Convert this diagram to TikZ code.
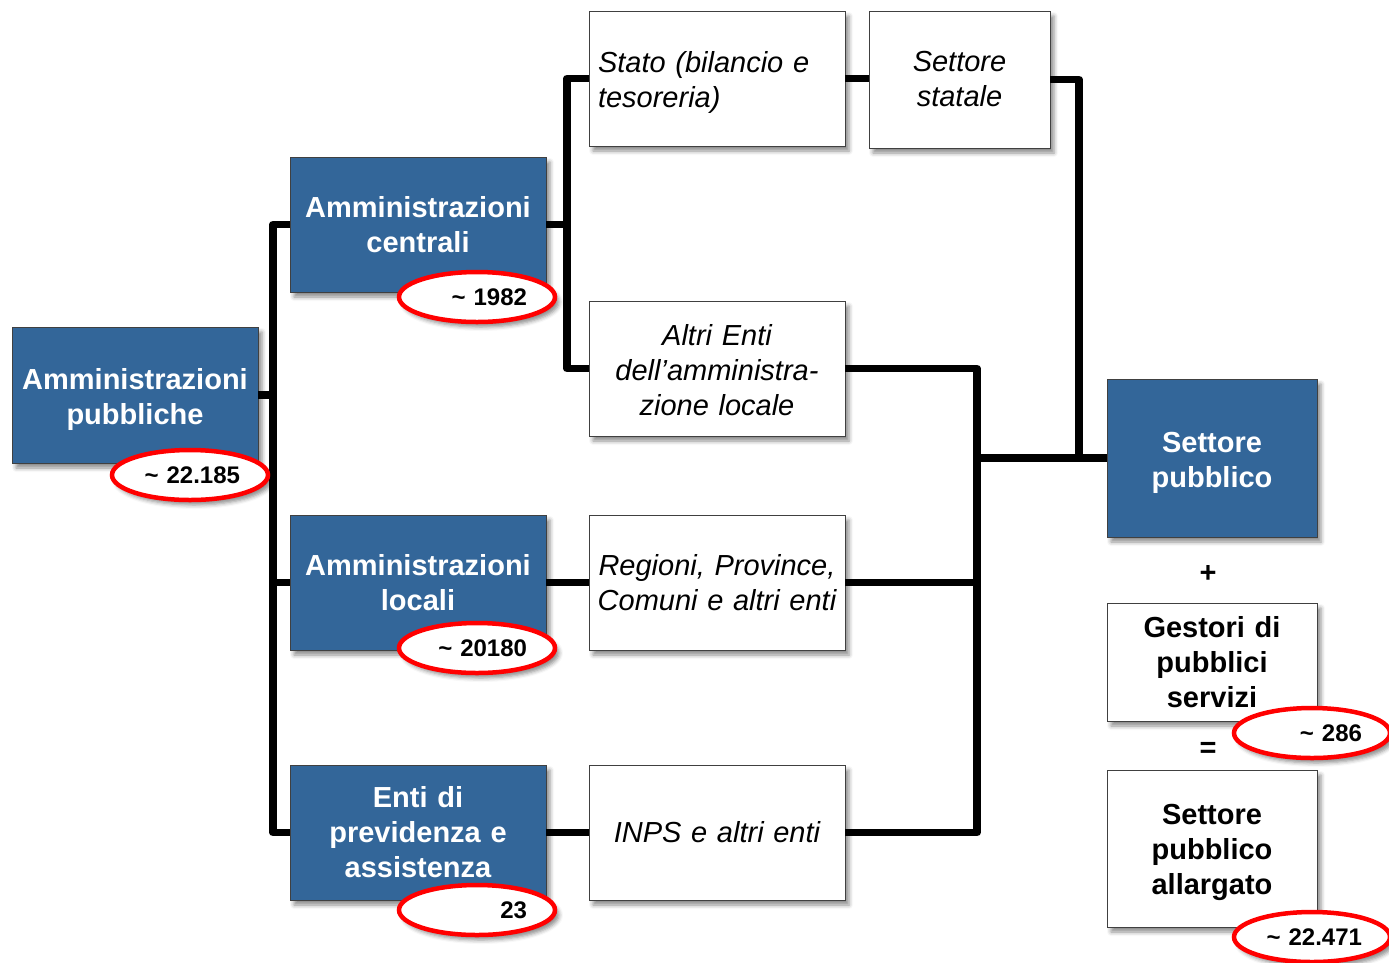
\documentclass[tikz,border=0pt]{standalone}
\usepackage{fontspec}
\setmainfont{Liberation Sans}
\usetikzlibrary{shapes.geometric,shadows.blur,calc}
\definecolor{boxblue}{RGB}{51,102,153}
\newcommand\mytopfix[1]{\rule{0pt}{#1pt}}
\begin{document}
\begin{tikzpicture}[x=1pt,y=-1pt,
  shad/.style={blur shadow={shadow xshift=4pt, shadow yshift=-5pt, shadow blur radius=4pt, shadow opacity=45}},
  bluebox/.style={shad, draw=black!75, line width=0.8pt, fill=boxblue, text=white,
    font=\bfseries\fontsize{29}{35}\selectfont, align=center, inner sep=0pt},
  whitebox/.style={shad, draw=black!75, line width=0.8pt, fill=white, text=black,
    font=\itshape\fontsize{29}{35}\selectfont, align=center, inner sep=0pt},
  boldbox/.style={shad, draw=black!75, line width=0.8pt, fill=white, text=black,
    font=\bfseries\fontsize{29}{35}\selectfont, align=center, inner sep=0pt},
  countoval/.style={shad, ellipse, draw=red, line width=4.5pt, fill=white,
    minimum width=156pt, minimum height=50pt, inner sep=0pt,
    text width=100pt, align=right, font=\bfseries\fontsize{24}{28}\selectfont},
  sign/.style={font=\bfseries\fontsize{29}{35}\selectfont},
  conn/.style={line width=7.5pt, line join=round, black}]
\useasboundingbox (0,0) rectangle (1389,962);

% blue boxes
\node[bluebox, minimum width=246pt, minimum height=136pt, text width=242pt] (AP) at (135,395) {\mytopfix{29}Amministrazioni\\pubbliche};
\node[bluebox, minimum width=256pt, minimum height=135pt, text width=250pt] (AC) at (418,224.5) {Amministrazioni\\centrali};
\node[bluebox, minimum width=256pt, minimum height=135pt, text width=250pt] (AL) at (418,582.5) {Amministrazioni\\locali};
\node[bluebox, minimum width=256pt, minimum height=135pt, text width=250pt] (EP) at (418,832.5) {Enti di\\previdenza e\\assistenza};

% white boxes
\node[whitebox, minimum width=256pt, minimum height=135pt, text width=238pt, align=left] (Stato) at (717,78.5) {\mytopfix{29}Stato (bilancio e\\tesoreria)};
\node[whitebox, minimum width=181pt, minimum height=137pt, text width=175pt] (SS) at (959.5,79.5) {Settore\\statale};
\node[whitebox, minimum width=256pt, minimum height=135pt, text width=250pt] (Altri) at (717,368.5) {\mytopfix{25}Altri Enti\\dell’amministra-\\zione locale};
\node[whitebox, minimum width=256pt, minimum height=135pt, text width=250pt] (Regioni) at (717,582.5) {Regioni, Province,\\Comuni e altri enti};
\node[whitebox, minimum width=256pt, minimum height=135pt, text width=250pt] (INPS) at (717,832.5) {INPS e altri enti};

% right column
\node[bluebox, minimum width=210pt, minimum height=158pt, text width=204pt] (SP) at (1212,458) {\mytopfix{29}Settore\\pubblico};
\node[sign] (plus) at (1208,574) {+};
\node[boldbox, minimum width=210pt, minimum height=118pt, text width=204pt] (GS) at (1212,662) {Gestori di\\pubblici\\servizi};
\node[sign] (eq) at (1208,750) {=};
\node[boldbox, minimum width=210pt, minimum height=157pt, text width=204pt] (SPA) at (1212,848.5) {\mytopfix{29}Settore\\pubblico\\allargato};

% connectors
\coordinate (T) at (273,0);
\coordinate (U) at (567,0);
\coordinate (W) at (977,0);
\coordinate (V) at (1079,0);
\draw[conn] (AC.west) -- (AC.west -| T) -- (EP.west -| T) -- (EP.west);
\draw[conn] (AP.east) -- (AP.east -| T);
\draw[conn] (AL.west) -- (AL.west -| T);
\draw[conn] (Stato.west) -- (Stato.west -| U) -- (Altri.west -| U) -- (Altri.west);
\draw[conn] (AC.east) -- (AC.east -| U);
\draw[conn] (AL.east) -- (Regioni.west);
\draw[conn] (EP.east) -- (INPS.west);
\draw[conn] (Stato.east) -- (Stato.east -| SS.west);
\draw[conn] (SS.east) -- (SS.east -| V) -- (SP.west -| V);
\draw[conn] (Altri.east) -- (Altri.east -| W) -- (INPS.east -| W) -- (INPS.east);
\draw[conn] (Regioni.east) -- (Regioni.east -| W);
\draw[conn] (SP.west -| W) -- (SP.west);

% count ovals
\node[countoval] (cAP) at (190,475) {\textasciitilde{} 22.185};
\node[countoval] (cAC) at (477,297) {\textasciitilde{} 1982};
\node[countoval] (cAL) at (477,648) {\textasciitilde{} 20180};
\node[countoval] (cEP) at (477,910) {23};
\node[countoval] (cGS) at (1312,733) {\textasciitilde{} 286};
\node[countoval] (cSPA) at (1312,937) {\textasciitilde{} 22.471};
\end{tikzpicture}
\end{document}
